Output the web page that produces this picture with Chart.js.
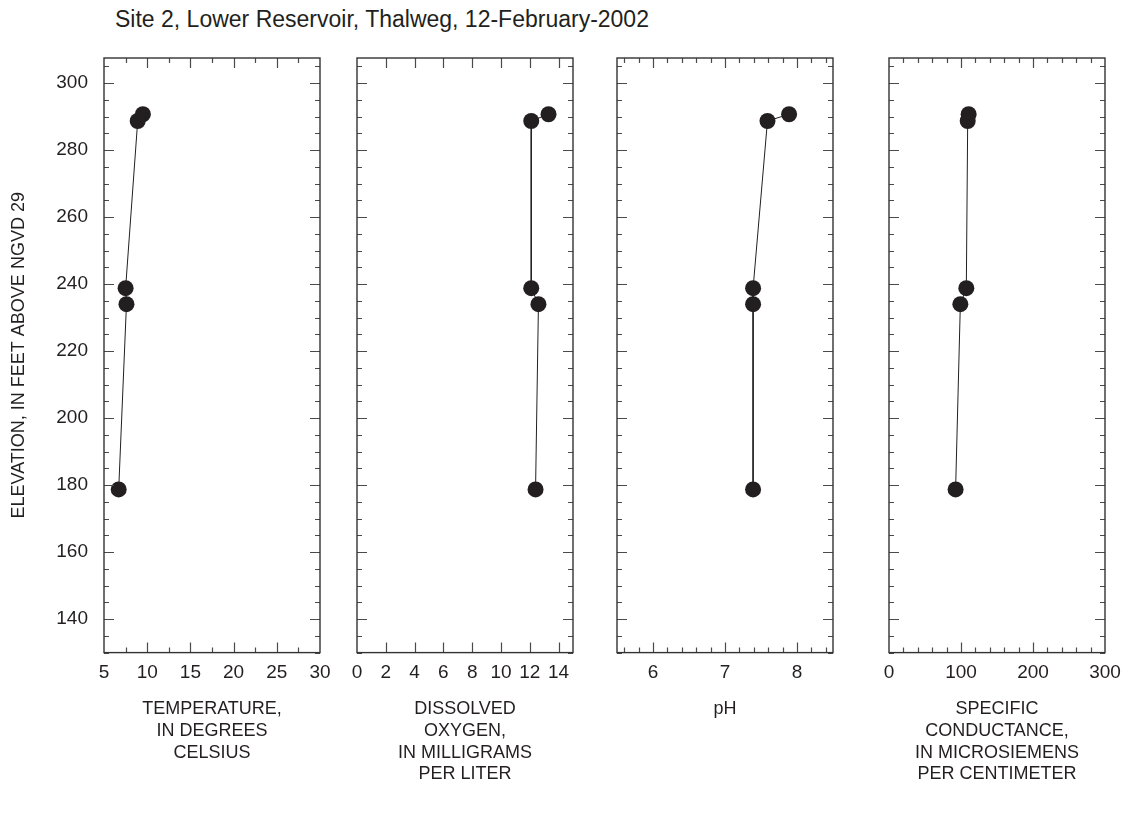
<!DOCTYPE html>
<html>
<head>
<meta charset="utf-8">
<script src="https://cdn.jsdelivr.net/npm/chart.js@4.4.1/dist/chart.umd.min.js"></script>
<style>
  body { margin: 0; background: #fff; }
  #wrap { position: relative; width: 1125px; height: 814px; overflow: hidden; }
  #wrap canvas { position: absolute; }
  #title {
    position: absolute; left: 115px; top: 6px;
    font-family: "Liberation Sans Narrow", "Arial Narrow", sans-serif;
    font-size: 23px; color: #231f20; white-space: nowrap;
  }
</style>
</head>
<body>
<div id="wrap">
  <div id="title">Site 2, Lower Reservoir, Thalweg, 12-February-2002</div>
  <canvas id="c1"></canvas>
  <canvas id="c2"></canvas>
  <canvas id="c3"></canvas>
  <canvas id="c4"></canvas>
</div>
<script>
// profile data (top sample first)
const elevation       = [290.7, 288.7, 238.8, 234.0, 178.7];
const temperature     = [9.5, 8.9, 7.5, 7.6, 6.7];
const dissolvedOxygen = [13.3, 12.1, 12.1, 12.6, 12.4];
const pH              = [7.89, 7.59, 7.39, 7.39, 7.39];
const conductance     = [110.6, 109.3, 107.4, 99.1, 92.5];

// tick labels
const elevTicks = [140, 160, 180, 200, 220, 240, 260, 280, 300];
const tempTicks = [5, 10, 15, 20, 25, 30];
const doTicks   = [0, 2, 4, 6, 8, 10, 12, 14];
const phTicks   = [6, 7, 8];
const scTicks   = [0, 100, 200, 300];

const tempTitle = ['TEMPERATURE,', 'IN DEGREES', 'CELSIUS'];
const doTitle   = ['DISSOLVED', 'OXYGEN,', 'IN MILLIGRAMS', 'PER LITER'];
const phTitle   = ['pH'];
const scTitle   = ['SPECIFIC', 'CONDUCTANCE,', 'IN MICROSIEMENS', 'PER CENTIMETER'];
const yTitle    = 'ELEVATION, IN FEET ABOVE NGVD 29';

const FONT = '"Liberation Sans Narrow", "Arial Narrow", sans-serif';
const INK = '#231f20';

// plot frame geometry
const PLOT_TOP = 58, PLOT_H = 595, PLOT_W = 216;
const T = 10, R = 22, LINE_H = 21.6;

const panels = [
  { id: 'c1', left: 104, L: 104, x: temperature, min: 5, max: 30, ticks: tempTicks, minor: 2.5, major: 5, title: tempTitle, yLabels: true },
  { id: 'c2', left: 357, L: 22, x: dissolvedOxygen, min: 0, max: 15, ticks: doTicks, minor: 2, major: 2, title: doTitle },
  { id: 'c3', left: 617, L: 22, x: pH, min: 5.5, max: 8.5, ticks: phTicks, minor: 0.2, major: 1, title: phTitle },
  { id: 'c4', left: 889, L: 22, x: conductance, min: 0, max: 300, ticks: scTicks, minor: 20, major: 100, title: scTitle }
];

// inward ticks on all four sides plus the frame
const frameTicks = {
  id: 'frameTicks',
  afterDraw(chart, args, o) {
    const { ctx, chartArea: a, scales: { x, y } } = chart;
    ctx.save();
    ctx.strokeStyle = '#4a4a4a';
    ctx.lineWidth = 1.2;
    ctx.beginPath();
    // y: minor every 5, major every 20
    for (let i = Math.ceil(y.min / 5); i * 5 <= y.max; i++) {
      const v = i * 5, py = Math.round(y.getPixelForValue(v)) + 0.5;
      const len = v % 20 === 0 ? 10 : 5;
      ctx.moveTo(a.left, py); ctx.lineTo(a.left + len, py);
      ctx.moveTo(a.right, py); ctx.lineTo(a.right - len, py);
    }
    const n0 = Math.ceil(x.min / o.minor - 1e-6), n1 = Math.floor(x.max / o.minor + 1e-6);
    for (let i = n0; i <= n1; i++) {
      const v = i * o.minor;
      if (Math.abs(v - x.min) < 1e-6 || Math.abs(v - x.max) < 1e-6) continue;
      const isMajor = Math.abs(v / o.major - Math.round(v / o.major)) < 1e-6;
      const len = isMajor ? 10 : 5;
      const px = Math.round(x.getPixelForValue(v)) + 0.5;
      ctx.moveTo(px, a.bottom); ctx.lineTo(px, a.bottom - len);
      ctx.moveTo(px, a.top); ctx.lineTo(px, a.top + len);
    }
    ctx.stroke();
    ctx.strokeStyle = '#333';
    ctx.lineWidth = 1.4;
    ctx.strokeRect(a.left, a.top, a.width, a.height);
    ctx.restore();
  }
};

const maxLines = 4;
panels.forEach(p => {
  const B = 46 + maxLines * LINE_H + 6;
  const pad = (maxLines - p.title.length) * LINE_H + 6;
  const cv = document.getElementById(p.id);
  cv.width = p.L + PLOT_W + R;
  cv.height = T + PLOT_H + B;
  cv.style.left = (p.left - p.L) + 'px';
  cv.style.top = (PLOT_TOP - T) + 'px';

  new Chart(cv, {
    type: 'scatter',
    data: {
      datasets: [{
        data: p.x.map((v, i) => ({ x: v, y: elevation[i] })),
        showLine: true,
        borderColor: INK,
        borderWidth: 1,
        pointRadius: 8,
        pointHoverRadius: 8,
        pointBackgroundColor: INK,
        pointBorderWidth: 0
      }]
    },
    options: {
      responsive: false,
      animation: false,
      devicePixelRatio: 1,
      layout: { padding: { top: T, right: R, left: 0, bottom: 0 } },
      plugins: {
        legend: { display: false },
        tooltip: { enabled: false },
        frameTicks: { minor: p.minor, major: p.major }
      },
      scales: {
        x: {
          type: 'linear',
          min: p.min, max: p.max,
          afterBuildTicks: s => { s.ticks = p.ticks.map(v => ({ value: v })); },
          afterFit: s => { s.height = B; s.paddingLeft = 0; s.paddingRight = 0; },
          grid: { display: false, drawTicks: false },
          border: { display: false },
          ticks: { color: INK, padding: 9, maxRotation: 0, font: { family: FONT, size: 19 } },
          title: {
            display: true, text: p.title, color: INK,
            padding: { top: 0, bottom: pad },
            font: { family: FONT, size: 18, lineHeight: 1.2 }
          }
        },
        y: {
          type: 'linear',
          min: 130, max: 307.5,
          afterBuildTicks: s => { s.ticks = elevTicks.map(v => ({ value: v })); },
          afterFit: s => { s.width = p.L; s.paddingTop = 0; s.paddingBottom = 0; },
          grid: { display: false, drawTicks: false },
          border: { display: false },
          ticks: { display: !!p.yLabels, color: INK, padding: 16, font: { family: FONT, size: 19 } },
          title: {
            display: !!p.yLabels, text: yTitle, color: INK,
            padding: { top: 8, bottom: 0 },
            font: { family: FONT, size: 18, lineHeight: 1.2 }
          }
        }
      }
    },
    plugins: [frameTicks]
  });
});
</script>
</body>
</html>
